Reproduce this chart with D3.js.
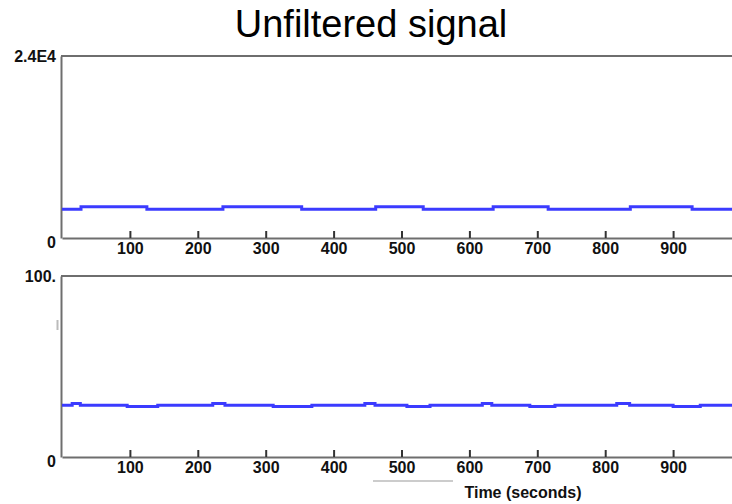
<!DOCTYPE html>
<html>
<head>
<meta charset="utf-8">
<script src="https://cdn.jsdelivr.net/npm/d3@7"></script>
<style>
  body { margin: 0; background: #fff; }
  svg { display: block; }
  .tick text { font-family: "Liberation Sans", Arial, sans-serif; font-weight: bold; font-size: 16px; fill: #111; }
</style>
</head>
<body>
<svg id="chart"></svg>
<script>
// step signal (time in seconds -> value)
const topTimes = [0, 28, 125, 237, 353, 462, 532, 635, 716, 837, 928, 1000];
const topValues = [3785, 4130, 3785, 4130, 3785, 4130, 3785, 4130, 3785, 4130, 3785, 3785];

const bottomTimes = [0, 15, 27, 96, 141, 222, 240, 311, 368, 446, 461, 508, 542, 619, 633, 689, 726, 817, 836, 900, 940, 1000];
const bottomValues = [28.6, 29.5, 28.6, 27.9, 28.6, 29.5, 28.6, 27.9, 28.6, 29.5, 28.6, 27.9, 28.6, 29.5, 28.6, 27.9, 28.6, 29.5, 28.6, 27.9, 28.6, 28.6];

const xTicks = [100, 200, 300, 400, 500, 600, 700, 800, 900];
const topMax = 24000, topMaxLabel = "2.4E4";
const bottomMax = 100, bottomMaxLabel = "100.";

const w = 732;
const h = 504;
const left = 62;
const axisColor = "#6e6e6e";
const lineColor = "#3b3bff";

const svg = d3.select("#chart").attr("width", w).attr("height", h);

const xScale = d3.scaleLinear().domain([0, 1000]).range([left, 741]);

// title
svg.append("text")
  .attr("x", 371)
  .attr("y", 37)
  .attr("text-anchor", "middle")
  .style("font-family", "'Liberation Sans', Arial, sans-serif")
  .style("font-size", "38px")
  .text("Unfiltered signal");

function drawPanel(top, bottom, maxVal, maxLabel, times, values) {
  const yScale = d3.scaleLinear().domain([0, maxVal]).range([bottom, top]);
  const g = svg.append("g");

  // top border
  g.append("line")
    .attr("x1", left - 1).attr("x2", w)
    .attr("y1", top).attr("y2", top)
    .attr("stroke", axisColor).attr("stroke-width", 2);

  // x axis, ticks point inward
  const xAxis = g.append("g")
    .attr("transform", "translate(0," + bottom + ")")
    .call(d3.axisBottom(xScale).tickValues(xTicks).tickSizeInner(-7).tickSizeOuter(0).tickPadding(5));
  xAxis.select(".domain").attr("stroke", axisColor).attr("stroke-width", 2);
  xAxis.selectAll(".tick line").attr("stroke", "#333").attr("stroke-width", 2);

  // y axis, only the two end labels
  const yAxis = g.append("g")
    .attr("transform", "translate(" + (left - 1) + ",0)")
    .call(d3.axisLeft(yScale).tickValues([0, maxVal]).tickSize(0).tickPadding(5)
      .tickFormat((d) => (d === 0 ? "0" : maxLabel)));
  yAxis.select(".domain").attr("stroke", axisColor).attr("stroke-width", 2);
  yAxis.selectAll(".tick").filter((d) => d === 0).select("text").attr("dy", "0.6em");

  const line = d3.line()
    .x((d, i) => xScale(times[i]))
    .y((d) => yScale(d))
    .curve(d3.curveStepAfter);

  g.append("path")
    .datum(values)
    .attr("fill", "none")
    .attr("stroke", lineColor)
    .attr("stroke-width", 3)
    .attr("d", line);
}

drawPanel(56, 238, topMax, topMaxLabel, topTimes, topValues);
drawPanel(276, 457, bottomMax, bottomMaxLabel, bottomTimes, bottomValues);

// x axis title
svg.append("text")
  .attr("x", 523)
  .attr("y", 498)
  .attr("text-anchor", "middle")
  .style("font-family", "'Liberation Sans', Arial, sans-serif")
  .style("font-weight", "bold")
  .style("font-size", "16px")
  .style("fill", "#111")
  .text("Time (seconds)");

// faint stray marks seen in the picture
svg.append("line")
  .attr("x1", 373).attr("x2", 453).attr("y1", 481).attr("y2", 481)
  .attr("stroke", "#999").attr("stroke-width", 1);
svg.append("line")
  .attr("x1", 57.5).attr("x2", 57.5).attr("y1", 320).attr("y2", 330)
  .attr("stroke", "#bbb").attr("stroke-width", 2);
</script>
</body>
</html>
